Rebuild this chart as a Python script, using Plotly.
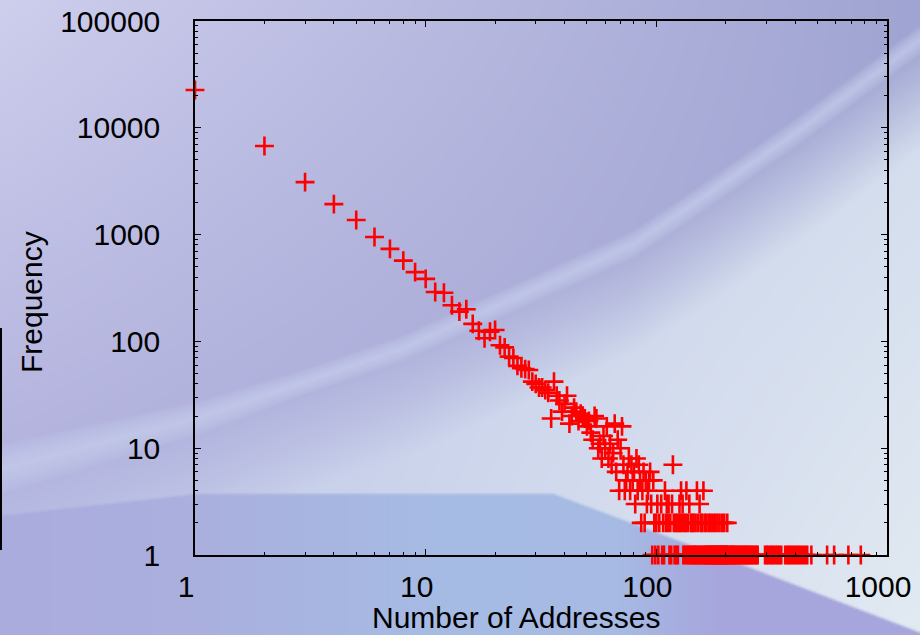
import base64
import struct
import zlib

import numpy as np
import plotly.graph_objects as go

# ---------------- data ----------------
addr_head = list(range(1, 101))
freq_head = [22600, 6760, 3100, 1930, 1370, 950, 735, 570, 445, 385,
             290, 285, 218, 190, 200, 146, 126, 107, 123, 128,
             92, 88, 72, 70, 59, 56, 55, 54, 42, 40,
             37, 37, 35, 33, 19, 42, 31, 28, 22, 26,
             31, 17, 20, 24, 22, 18, 21, 20, 19, 16,
             18, 14, 12, 20, 19, 10, 11, 8, 13, 10,
             16, 8, 11, 7, 9, 17, 6, 12, 4, 10,
             16, 7, 4, 5, 6, 8, 4, 7, 5, 6,
             3, 8, 4, 7, 5, 2, 4, 6, 2, 5,
             3, 4, 5, 6, 3, 1, 5, 2, 1, 2]

addr_freq7 = [118]
addr_freq4 = [109, 128, 135, 150, 160]
addr_freq3 = [101, 105, 111, 113, 117, 126, 130, 139, 154]
addr_freq2 = [103, 107, 110, 112, 115, 119, 121, 123, 125, 127, 129, 132,
              134, 137, 141, 143, 145, 148, 152, 156, 158, 162, 165, 169,
              172, 176, 180, 184, 188, 193, 197, 203]
addr_freq1 = [102, 106, 108, 114, 116, 120, 122, 124, 131, 133, 136, 138,
              140, 142, 144, 146, 147, 149, 151, 153, 155, 157, 159, 161,
              163, 164, 166, 167, 168, 170, 171, 173, 174, 175, 177, 178,
              179, 181, 182, 183, 185, 186, 187, 189, 190, 191, 192, 194,
              195, 196, 198, 199, 200, 201, 202, 205, 207, 209, 211, 213,
              215, 217, 220, 222, 225, 228, 231, 234, 237, 240, 243, 246,
              249, 252, 256, 259, 263, 267, 271, 275, 296, 301, 306, 312,
              317, 323, 329, 335, 341, 348, 362, 369, 376, 383, 391, 399,
              407, 415, 424, 433, 442, 451, 470, 550, 590, 680, 770]

x_tick_vals = [1, 10, 100, 1000]
x_tick_text = ["1", "10", "100", "1000"]
y_tick_vals = [1, 10, 100, 1000, 10000, 100000]
y_tick_text = ["1", "10", "100", "1000", "10000", "100000"]
x_title = "Number of Addresses"
y_title = "Frequency"

addresses = (addr_head + addr_freq7 + addr_freq4 + addr_freq3
             + addr_freq2 + addr_freq1)
frequency = (freq_head + [7] * len(addr_freq7) + [4] * len(addr_freq4)
             + [3] * len(addr_freq3) + [2] * len(addr_freq2)
             + [1] * len(addr_freq1))

# ---------------- background picture (slide backdrop) ----------------
W, H = 920, 635
S = 2  # downsampling factor
gx, gy = np.meshgrid(np.arange(0, W, S) + S / 2, np.arange(0, H, S) + S / 2)
t = gx / W


def lerp(a, b, f):
    a = np.array(a, float)
    b = np.array(b, float)
    return a + (b - a) * f[..., None]


upper = lerp((206, 206, 237), (160, 164, 210), t)
upper -= ((gy / 450.0) * (1 - t))[..., None] * np.array([26, 26, 14])

glow = lerp((190, 198, 232), (208, 218, 236), t)
glow += ((gy / H) * t)[..., None] * np.array([18, 16, 6])

sw_x = [0, 200, 400, 500, 633, 700, 800, 920]
sw_y = [470, 418, 350, 305, 245, 200, 130, 40]
ys = np.interp(gx, sw_x, sw_y)
bd_x = [0, 200, 553, 700, 920]
bd_y = [515, 493, 493, 548, 632]
yb = np.interp(gx, bd_x, bd_y)

g = np.clip((gy - ys) / 110.0, 0, 1)
img = upper * (1 - g[..., None]) + glow * g[..., None]

halfw = np.interp(gx, [0, 300, 920], [26, 13, 15])
band = np.clip(1 - np.abs(gy - ys) / halfw, 0, 1) ** 0.7
band_col = np.array([198, 206, 236], float)
img = img * (1 - 0.75 * band[..., None]) + band_col * (0.75 * band[..., None])

low_r = np.interp(gx, [0, 200, 450, 620, 720, 920], [170, 170, 166, 166, 166, 166])
low_g = np.interp(gx, [0, 200, 450, 620, 720, 920], [172, 176, 188, 186, 166, 166])
low_b = np.interp(gx, [0, 200, 450, 620, 720, 920], [222, 222, 228, 228, 220, 220])
lower = np.stack([low_r, low_g, low_b], axis=-1)
m = np.clip((gy - yb) / 3.0, 0, 1)[..., None]
img = img * (1 - m) + lower * m

rgb = np.clip(img, 0, 255).astype(np.uint8)


def make_png(arr):
    h, w, _ = arr.shape
    raw = b"".join(b"\x00" + arr[i].tobytes() for i in range(h))

    def chunk(tag, data):
        return (struct.pack(">I", len(data)) + tag + data
                + struct.pack(">I", zlib.crc32(tag + data) & 0xFFFFFFFF))

    return (b"\x89PNG\r\n\x1a\n"
            + chunk(b"IHDR", struct.pack(">IIBBBBB", w, h, 8, 2, 0, 0, 0))
            + chunk(b"IDAT", zlib.compress(raw, 9))
            + chunk(b"IEND", b""))


bg_src = "data:image/png;base64," + base64.b64encode(make_png(rgb)).decode()

# ---------------- figure ----------------
L, R, T, B = 195, 33, 21, 80
PW, PH = W - L - R, H - T - B


def px(xp):
    return (xp - L) / PW


def py(yp):
    return (H - B - yp) / PH


font = dict(family="Liberation Sans, Arial, sans-serif", size=30, color="black")

fig = go.Figure()
fig.add_trace(go.Scatter(
    x=addresses, y=frequency, mode="markers",
    marker=dict(symbol="cross-thin", size=13.5,
                line=dict(width=2.6, color="#ff0000")),
    cliponaxis=False, showlegend=False, hoverinfo="x+y"))

minor_x = [m * 10 ** k for k in range(0, 3) for m in range(2, 10)]
minor_y = [m * 10 ** k for k in range(0, 5) for m in range(2, 10)]

axis_common = dict(
    type="log", showgrid=False, zeroline=False, showline=True,
    linecolor="black", linewidth=1.5, mirror="allticks", automargin=False,
    ticks="inside", ticklen=6, tickwidth=1.2, tickcolor="black",
    tickfont=font,
)

fig.update_xaxes(range=[0, 3], tickvals=x_tick_vals, ticktext=x_tick_text,
                 ticklabelstandoff=4, ticklabelshift=-9,
                 minor=dict(tickvals=minor_x, ticks="inside", ticklen=3,
                            tickwidth=1, tickcolor="black", showgrid=False),
                 **axis_common)
fig.update_yaxes(range=[0, 5], tickvals=y_tick_vals, ticktext=y_tick_text,
                 ticklabelstandoff=27,
                 minor=dict(tickvals=minor_y, ticks="inside", ticklen=3,
                            tickwidth=1, tickcolor="black", showgrid=False),
                 **axis_common)

fig.update_layout(
    template="none",
    width=W, height=H,
    margin=dict(l=L, r=R, t=T, b=B, pad=0, autoexpand=False),
    paper_bgcolor="#b8b8e0", plot_bgcolor="rgba(0,0,0,0)",
    font=font,
    images=[dict(source=bg_src, xref="paper", yref="paper",
                 x=px(0), y=py(0), sizex=W / PW, sizey=H / PH,
                 xanchor="left", yanchor="top", sizing="stretch",
                 layer="below")],
    shapes=[dict(type="line", xref="paper", yref="paper",
                 x0=px(1), x1=px(1), y0=py(328), y1=py(550),
                 line=dict(color="black", width=2))],
    annotations=[
        dict(text=x_title, xref="paper", yref="paper", x=px(516), y=py(617),
             xanchor="center", yanchor="middle", showarrow=False, font=font),
        dict(text=y_title, xref="paper", yref="paper", x=px(31), y=py(302),
             xanchor="center", yanchor="middle", showarrow=False, font=font,
             textangle=-90),
    ],
)

fig.write_html(
    "out.html",
    config={"displayModeBar": False},
    post_script="document.body.style.margin='0';document.body.style.overflow='hidden';",
)
